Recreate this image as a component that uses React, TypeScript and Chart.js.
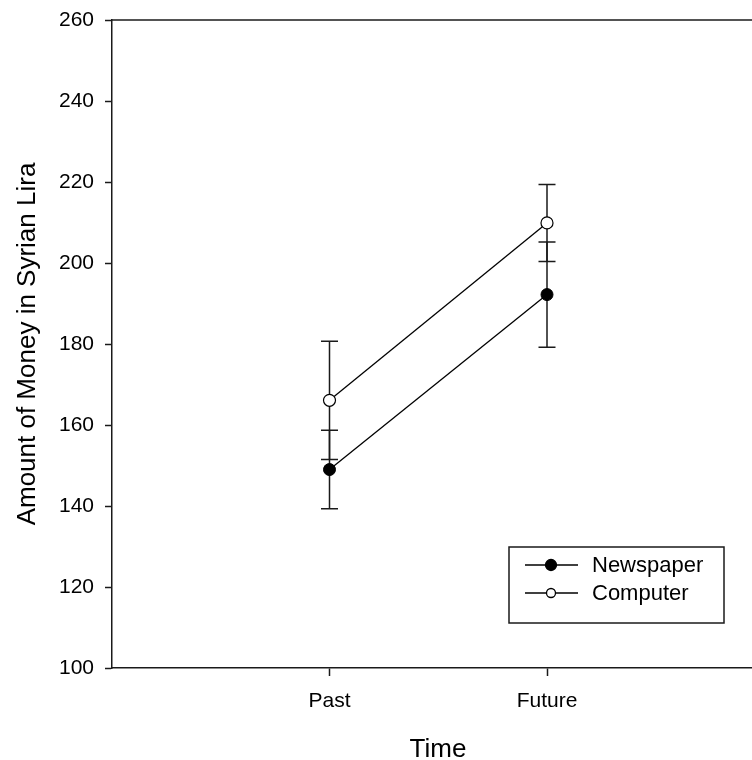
import React, { useEffect, useRef } from "react";
import { Chart, registerables } from "chart.js";

Chart.register(...registerables);

// ---- data ----
const categoryLabels: string[] = ["Past", "Future"];
const categoryPositions: number[] = [1, 2];
const yTickValues: number[] = [100, 120, 140, 160, 180, 200, 220, 240, 260];

const newspaperMeans: number[] = [149.0, 192.2];
const newspaperErrors: number[] = [9.7, 13.0];
const computerMeans: number[] = [166.1, 209.9];
const computerErrors: number[] = [14.6, 9.5];

const seriesNames: string[] = ["Newspaper", "Computer"];
const xTitle = "Time";
const yTitle = "Amount of Money in Syrian Lira";

const FONT = "'Liberation Sans', Arial, sans-serif";
const INK = "#1a1a1a";

const errorBarPlugin = {
  id: "errorBars",
  beforeDatasetsDraw(chart: any) {
    const ctx = chart.ctx;
    const xs = chart.scales.x;
    const ys = chart.scales.y;
    chart.data.datasets.forEach((ds: any) => {
      const errs: number[] = ds.errors || [];
      ds.data.forEach((p: any, i: number) => {
        const e = errs[i];
        if (e == null) return;
        const px = xs.getPixelForValue(p.x);
        const top = ys.getPixelForValue(p.y + e);
        const bot = ys.getPixelForValue(p.y - e);
        ctx.save();
        ctx.strokeStyle = INK;
        ctx.lineWidth = 1.5;
        ctx.beginPath();
        ctx.moveTo(px, top);
        ctx.lineTo(px, bot);
        ctx.moveTo(px - 8.5, top);
        ctx.lineTo(px + 8.5, top);
        ctx.moveTo(px - 8.5, bot);
        ctx.lineTo(px + 8.5, bot);
        ctx.stroke();
        ctx.restore();
      });
    });
  },
};

const decorPlugin = {
  id: "decor",
  afterDraw(chart: any) {
    const ctx = chart.ctx;
    const area = chart.chartArea;
    ctx.save();
    // top frame line
    ctx.strokeStyle = INK;
    ctx.lineWidth = 1.5;
    ctx.beginPath();
    ctx.moveTo(area.left, area.top);
    ctx.lineTo(area.right, area.top);
    ctx.stroke();

    // axis titles
    ctx.fillStyle = "#000";
    ctx.font = `26px ${FONT}`;
    ctx.textAlign = "center";
    ctx.textBaseline = "alphabetic";
    ctx.fillText(xTitle, 438, 757);
    ctx.save();
    ctx.translate(35, (area.top + area.bottom) / 2);
    ctx.rotate(-Math.PI / 2);
    ctx.fillText(yTitle, 0, 0);
    ctx.restore();

    // legend
    const bx = 509, by = 547, bw = 215, bh = 76;
    ctx.strokeStyle = INK;
    ctx.lineWidth = 1.5;
    ctx.strokeRect(bx, by, bw, bh);
    const rows = [565, 593];
    chart.data.datasets.forEach((ds: any, i: number) => {
      const y = rows[i];
      ctx.strokeStyle = "#000";
      ctx.lineWidth = 1.3;
      ctx.beginPath();
      ctx.moveTo(525, y);
      ctx.lineTo(578, y);
      ctx.stroke();
      ctx.beginPath();
      ctx.arc(551, y, i === 0 ? 5.5 : 4.5, 0, Math.PI * 2);
      ctx.fillStyle = ds.pointBackgroundColor;
      ctx.fill();
      ctx.strokeStyle = "#000";
      ctx.stroke();
      ctx.fillStyle = "#000";
      ctx.font = `22px ${FONT}`;
      ctx.textAlign = "left";
      ctx.textBaseline = "middle";
      ctx.fillText(ds.label, 592, y + 1);
    });
    ctx.restore();
  },
};

export default function App() {
  const canvasRef = useRef<HTMLCanvasElement | null>(null);

  useEffect(() => {
    if (!canvasRef.current) return;
    const toPoints = (means: number[]) =>
      means.map((m, i) => ({ x: categoryPositions[i], y: m }));
    const chart = new Chart(canvasRef.current, {
      type: "line",
      data: {
        datasets: [
          {
            label: seriesNames[0],
            data: toPoints(newspaperMeans),
            errors: newspaperErrors,
            borderColor: "#000",
            borderWidth: 1.3,
            pointRadius: 6,
            pointBackgroundColor: "#000",
            pointBorderColor: "#000",
            pointBorderWidth: 1,
          } as any,
          {
            label: seriesNames[1],
            data: toPoints(computerMeans),
            errors: computerErrors,
            borderColor: "#000",
            borderWidth: 1.3,
            pointRadius: 6,
            pointBackgroundColor: "#fff",
            pointBorderColor: "#000",
            pointBorderWidth: 1.2,
          } as any,
        ],
      },
      options: {
        animation: false,
        responsive: false,
        devicePixelRatio: 1,
        layout: { autoPadding: false, padding: { top: 20, right: 0, left: 0, bottom: 0 } },
        plugins: {
          legend: { display: false },
          tooltip: { enabled: false },
        },
        scales: {
          x: {
            type: "linear",
            min: 0,
            max: 640 / 217.5,
            afterBuildTicks: (scale: any) => {
              scale.ticks = categoryPositions.map((v) => ({ value: v }));
            },
            afterFit: (scale: any) => {
              scale.height = 92;
              scale.paddingLeft = 0;
              scale.paddingRight = 0;
            },
            ticks: {
              color: "#000",
              font: { family: FONT, size: 21 },
              padding: 13,
              maxRotation: 0,
              autoSkip: false,
              callback: (v: any) => {
                const idx = categoryPositions.indexOf(Number(v));
                return idx >= 0 ? categoryLabels[idx] : "";
              },
            },
            grid: {
              drawOnChartArea: false,
              tickLength: 8,
              tickColor: INK,
              tickWidth: 1.5,
            },
            border: { display: true, color: INK, width: 1.5 },
          },
          y: {
            type: "linear",
            min: 100,
            max: 260,
            afterBuildTicks: (scale: any) => {
              scale.ticks = yTickValues.map((v) => ({ value: v }));
            },
            afterFit: (scale: any) => {
              scale.width = 112;
              scale.paddingTop = 0;
              scale.paddingBottom = 0;
            },
            ticks: {
              color: "#000",
              font: { family: FONT, size: 21 },
              padding: 11,
              autoSkip: false,
              callback: (v: any) => String(v),
            },
            grid: {
              drawOnChartArea: false,
              tickLength: 7,
              tickColor: INK,
              tickWidth: 1.5,
            },
            border: { display: true, color: INK, width: 1.5 },
          },
        },
      } as any,
      plugins: [errorBarPlugin, decorPlugin],
    });
    return () => chart.destroy();
  }, []);

  return (
    <div style={{ position: "absolute", left: 0, top: 0, width: 752, height: 760, background: "#fff" }}>
      <canvas ref={canvasRef} width={752} height={760} style={{ display: "block" }} />
    </div>
  );
}
